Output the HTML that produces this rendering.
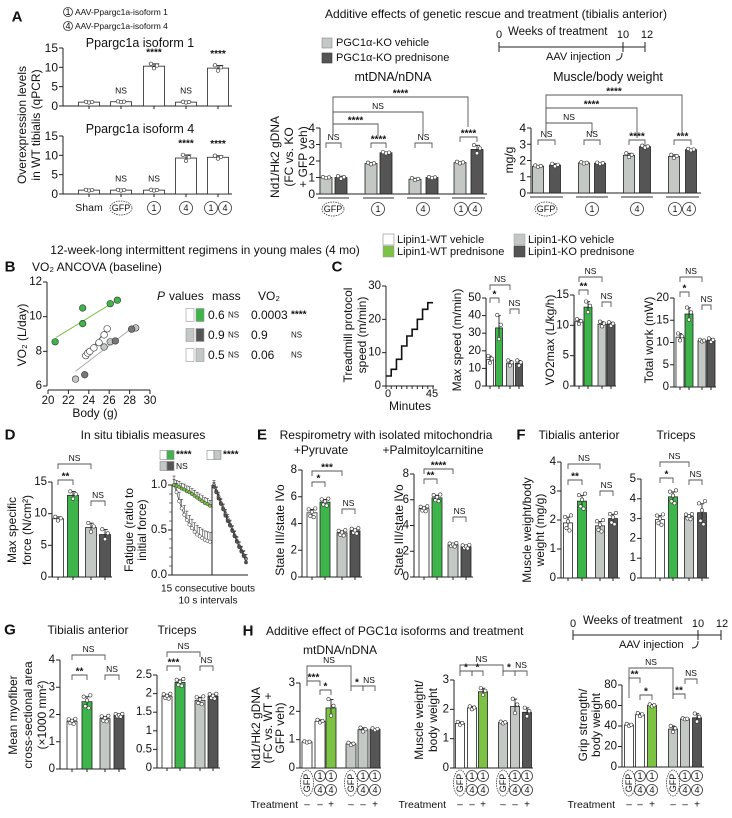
<!DOCTYPE html>
<html><head><meta charset="utf-8">
<style>
html,body{margin:0;padding:0;background:#fff;}
svg{display:block;font-family:"Liberation Sans",Arial,sans-serif;}
</style></head>
<body>
<svg id="fig" width="732" height="818" viewBox="0 0 732 818" xmlns="http://www.w3.org/2000/svg"></svg>
<script>
// ---------- DATA ----------
const a1Iso1=[1.0,1.1,10.3,1.0,9.8];
const a1Iso1Err=[0.1,0.1,0.6,0.1,0.7];
const a1Iso4=[1.0,1.0,1.0,9.3,9.5];
const a1Iso4Err=[0.1,0.1,0.1,0.8,0.4];
const a1Iso1Sig=['','NS','****','NS','****'];
const a1Iso4Sig=['','NS','NS','****','****'];
const aMtVeh=[1.0,1.85,0.9,1.9];
const aMtVehErr=[0.03,0.05,0.06,0.05];
const aMtPred=[1.0,2.5,1.0,2.7];
const aMtPredErr=[0.08,0.04,0.03,0.25];
const aMbwVeh=[1.65,1.85,2.32,2.25];
const aMbwVehErr=[0.05,0.04,0.12,0.1];
const aMbwPred=[1.72,1.83,2.85,2.67];
const aMbwPredErr=[0.08,0.04,0.06,0.04];
const bWtVehX=[23.7,23.9,24.1,24.5,25.0,25.5,25.8];
const bWtVehY=[7.75,7.9,8.0,8.2,8.5,8.95,9.3];
const bWtPredX=[20.7,23.4,23.4,26.1,26.8];
const bWtPredY=[8.55,10.5,9.6,10.75,10.95];
const bKoVehX=[22.7,25.5,26.1,28.6];
const bKoVehY=[6.4,8.25,8.55,9.35];
const bKoPredX=[23.6,26.6,28.2];
const bKoPredY=[6.65,8.6,9.28];
const cTimes=[0,5,10,15,20,25,30,35,40,45];
const cLevels=[3,5,8,12,15,17,20,23,25];
const cMaxSpeed=[15,33,13,13];
const cMaxSpeedErr=[2,7,1.5,1.5];
const cVo2=[10.6,13,10.2,10.2];
const cVo2Err=[0.4,0.9,0.4,0.3];
const cWork=[11.2,16.4,10.4,10.5];
const cWorkErr=[0.8,1.4,0.2,0.4];
const dForce=[9.2,12.9,7.8,6.7];
const dForceErr=[0.3,0.6,0.7,0.8];
const dFatWtVeh=[1.0,0.92,0.82,0.74,0.67,0.61,0.56,0.52,0.48,0.45,0.43,0.41,0.39,0.38,0.37];
const dFatWtPred=[1.0,0.99,0.98,0.96,0.95,0.93,0.92,0.9,0.88,0.86,0.84,0.82,0.8,0.79,0.77];
const dFatKoVeh=[1.0,0.93,0.87,0.8,0.74,0.68,0.62,0.56,0.5,0.44,0.38,0.32,0.27,0.22,0.18];
const dFatKoPred=[0.98,0.92,0.85,0.79,0.73,0.66,0.6,0.55,0.49,0.43,0.37,0.31,0.26,0.21,0.14];
const ePyr=[4.8,5.6,3.3,3.45];
const ePyrErr=[0.25,0.2,0.15,0.15];
const ePalm=[5.3,6.15,2.5,2.35];
const ePalmErr=[0.15,0.2,0.1,0.1];
const fTa=[1.9,2.65,1.8,2.05];
const fTaErr=[0.2,0.2,0.15,0.15];
const fTri=[2.95,4.1,3.1,3.3];
const fTriErr=[0.2,0.25,0.1,0.45];
const gTa=[1.75,2.47,1.85,1.97];
const gTaErr=[0.07,0.18,0.08,0.04];
const gTri=[1.93,2.3,1.82,1.93];
const gTriErr=[0.05,0.07,0.08,0.05];
const hMt=[0.92,1.65,2.12,0.85,1.35,1.37];
const hMtErr=[0.02,0.05,0.3,0.04,0.07,0.03];
const hMw=[1.52,2.05,2.6,1.55,2.1,1.9];
const hMwErr=[0.05,0.05,0.12,0.03,0.25,0.15];
const hGrip=[41,51,60,37,47,48];
const hGripErr=[1,1.5,1,3,0.5,4];

// ---------- HELPERS ----------
const NS='http://www.w3.org/2000/svg';
const svg=document.getElementById('fig');
const GREEN='#3db54a', LGREEN='#7cc243', LGRAY='#c3c8c4', DGRAY='#555555', AX='#222';
function el(tag,attrs,name,parent){
  const e=document.createElementNS(NS,tag);
  for(const k in attrs) e.setAttribute(k,attrs[k]);
  
  
  (parent||svg).appendChild(e);
  return e;
}
function tx(x,y,s,o,name,parent){
  o=o||{};
  const a={x:x,y:y,'font-size':o.fs||11,'text-anchor':o.a||'middle','dominant-baseline':'central',fill:o.c||'#111'};
  if(o.fw) a['font-weight']=o.fw;
  if(o.fi) a['font-style']=o.fi;
  if(o.rot) a.transform='rotate(-90 '+x+' '+y+')';
  const e=el('text',a,name,parent);
  e.textContent=s;
  return e;
}
function yAxis(g,x,y0,yT,vmin,vmax,ticks,labels,name,fs){
  const sy=v=>y0-(v-vmin)/(vmax-vmin)*(y0-yT);
  el('line',{x1:x,y1:y0,x2:x,y2:yT,stroke:AX,'stroke-width':1},name+'-line',g);
  ticks.forEach((t,i)=>{
    el('line',{x1:x-4,x2:x,y1:sy(t),y2:sy(t),stroke:AX,'stroke-width':1},name+'-tick',g);
    tx(x-5,sy(t),labels?labels[i]:String(t),{a:'end',fs:fs||11},name+'-tick-label',g);
  });
  return sy;
}
function xAxis(g,x1,x2,y,centers,name){
  el('line',{x1:x1,x2:x2,y1:y,y2:y,stroke:AX,'stroke-width':1},name,g);
  (centers||[]).forEach(c=>el('line',{x1:c,x2:c,y1:y,y2:y+3,stroke:AX,'stroke-width':1},name+'-tick',g));
}
const PAT=[0.8,-0.7,0.2,-1,1,-0.3];
function bars(g,xs,vals,errs,fills,w,sy,name,npts){
  vals.forEach((v,i)=>{
    el('rect',{x:xs[i]-w/2,y:sy(v),width:w,height:sy(0)-sy(v),fill:fills[i],stroke:'#222','stroke-width':0.8},name+'-bar',g);
    const e=errs[i];
    el('line',{x1:xs[i],x2:xs[i],y1:sy(v-e),y2:sy(v+e),stroke:'#222','stroke-width':0.9},name+'-error',g);
    el('line',{x1:xs[i]-w*0.25,x2:xs[i]+w*0.25,y1:sy(v+e),y2:sy(v+e),stroke:'#222','stroke-width':0.9},name+'-error-cap',g);
    for(let k=0;k<npts;k++){
      const dx=(k-(npts-1)/2)*Math.min(3,w/(npts+1));
      el('circle',{cx:xs[i]+dx,cy:sy(v+PAT[k%6]*e*1.3),r:1.7,fill:'#fff',stroke:'#333','stroke-width':0.6},name+'-point',g);
    }
  });
}
function bracket(g,x1,x2,y,label,name,drop){
  drop=drop||5;
  el('path',{d:'M'+x1+' '+(y+drop)+'V'+y+'H'+x2+'V'+(y+drop),fill:'none',stroke:'#555','stroke-width':0.9},name,g);
  const star=label.indexOf('*')>=0;
  tx((x1+x2)/2,star?y-3:y-6,label,{fs:star?10:8.5,fw:star?'bold':'normal'},name+'-label',g);
}
function circ(g,x,y,t,name,r){
  el('circle',{cx:x,cy:y,r:r||6.5,fill:'none',stroke:'#333','stroke-width':0.8},name,g);
  tx(x,y,t,{fs:9},name+'-text',g);
}
function gfp(g,x,y,name,vertical){
  if(vertical){
    el('ellipse',{cx:x,cy:y,rx:6.5,ry:13,fill:'none',stroke:'#333','stroke-width':0.8,'stroke-dasharray':'1.5,1'},name,g);
    tx(x,y,'GFP',{fs:9,rot:true},name+'-text',g);
  } else {
    el('ellipse',{cx:x,cy:y,rx:11,ry:7,fill:'none',stroke:'#333','stroke-width':0.8,'stroke-dasharray':'1.5,1'},name,g);
    tx(x,y,'GFP',{fs:9},name+'-text',g);
  }
}
function mkg(name){ return el('g',{},name,svg); }

// ---------- PANEL A ----------
let g=mkg('panel-a');
tx(17,17,'A',{fs:15,fw:'bold'},'panel-a-letter',g);
circ(g,68,12,'1','legend-isoform1-icon',4.5);
tx(75,12,'AAV-Ppargc1a-isoform 1',{fs:8.5,a:'start'},'legend-isoform1-text',g);
circ(g,68,26,'4','legend-isoform4-icon',4.5);
tx(75,26,'AAV-Ppargc1a-isoform 4',{fs:8.5,a:'start'},'legend-isoform4-text',g);
const aXs=[89,121,154,186,218];
tx(140,43,'Ppargc1a isoform 1',{fs:12.5},'a-iso1-title',g);
let sy=yAxis(g,63,106,48,0,15,[0,5,10,15],null,'a-iso1-y',12);
xAxis(g,63,232,106,aXs,'a-iso1-x');
bars(g,aXs,a1Iso1,a1Iso1Err,['#fff','#fff','#fff','#fff','#fff'],21,sy,'a-iso1',3);
a1Iso1.forEach((v,i)=>{ if(a1Iso1Sig[i]) tx(aXs[i],sy(v+a1Iso1Err[i])-11,a1Iso1Sig[i],{fs:a1Iso1Sig[i]=='NS'?8.5:10,fw:a1Iso1Sig[i]=='NS'?'normal':'bold'},'a-iso1-sig',g); });
tx(140,129,'Ppargc1a isoform 4',{fs:12.5},'a-iso4-title',g);
sy=yAxis(g,63,194,136,0,15,[0,5,10,15],null,'a-iso4-y',12);
xAxis(g,63,232,194,aXs,'a-iso4-x');
bars(g,aXs,a1Iso4,a1Iso4Err,['#fff','#fff','#fff','#fff','#fff'],21,sy,'a-iso4',3);
a1Iso4.forEach((v,i)=>{ if(a1Iso4Sig[i]) tx(aXs[i],sy(v+a1Iso4Err[i])-11,a1Iso4Sig[i],{fs:a1Iso4Sig[i]=='NS'?8.5:10,fw:a1Iso4Sig[i]=='NS'?'normal':'bold'},'a-iso4-sig',g); });
tx(89,208,'Sham',{fs:10.5},'a-x-sham',g);
gfp(g,121,208,'a-x-gfp');
circ(g,154,208,'1','a-x-iso1');
circ(g,186,208,'4','a-x-iso4');
circ(g,211,208,'1','a-x-iso14a');
circ(g,225,208,'4','a-x-iso14b');
tx(22,125,'Overexpression levels',{fs:12,rot:true},'a-y-title-1',g);
tx(36,125,'in WT tibialis (qPCR)',{fs:12,rot:true},'a-y-title-2',g);

tx(496,14,'Additive effects of genetic rescue and treatment (tibialis anterior)',{fs:12},'a-right-title',g);
el('rect',{x:322,y:38,width:10,height:10,fill:LGRAY,stroke:'#888','stroke-width':0.6},'legend-ko-vehicle-swatch',g);
tx(336,43,'PGC1α-KO vehicle',{fs:11,a:'start'},'legend-ko-vehicle-text',g);
el('rect',{x:322,y:53,width:10,height:10,fill:DGRAY,stroke:'#333','stroke-width':0.6},'legend-ko-pred-swatch',g);
tx(336,58,'PGC1α-KO prednisone',{fs:11,a:'start'},'legend-ko-pred-text',g);
el('line',{x1:499,x2:645,y1:47,y2:47,stroke:AX},'a-timeline',g);
[499,623,645].forEach(x=>el('line',{x1:x,x2:x,y1:42,y2:52,stroke:AX},'a-timeline-tick',g));
tx(499,35,'0',{fs:11},'a-timeline-0',g);
tx(508,32,'Weeks of treatment',{fs:11.5,a:'start'},'a-timeline-title',g);
tx(623,35,'10',{fs:11},'a-timeline-10',g);
tx(647,35,'12',{fs:11},'a-timeline-12',g);
tx(546,57,'AAV injection',{fs:11,a:'start'},'a-timeline-aav',g);
el('path',{d:'M616 60 Q622 60 622 53',fill:'none',stroke:AX},'a-timeline-arrow',g);

const mtL=[326,371,415,460], mtD=[341,386,432,477];
tx(393,77,'mtDNA/nDNA',{fs:12.5},'a-mt-title',g);
sy=yAxis(g,320,194,128,0,4,[0,1,2,3,4],null,'a-mt-y',12);
xAxis(g,320,487,194,null,'a-mt-x');
bars(g,mtL,aMtVeh,aMtVehErr,[LGRAY,LGRAY,LGRAY,LGRAY],12,sy,'a-mt-veh',3);
bars(g,mtD,aMtPred,aMtPredErr,[DGRAY,DGRAY,DGRAY,DGRAY],12,sy,'a-mt-pred',3);
const mtSig=['NS','****','NS','****'];
mtL.forEach((x,i)=>{
  el('line',{x1:x-8,x2:mtD[i]+8,y1:198,y2:198,stroke:'#777','stroke-width':1.5},'a-mt-group-underline',g);
  bracket(g,x,mtD[i],i==3?137:143,mtSig[i],'a-mt-pair-bracket');
});
bracket(g,333,378,124,'****','a-mt-bracket-gfp-1',12);
bracket(g,333,423,112,'NS','a-mt-bracket-gfp-4',24);
bracket(g,333,468,97,'****','a-mt-bracket-gfp-14',30);
gfp(g,333,209,'a-mt-x-gfp'); circ(g,378,209,'1','a-mt-x-1'); circ(g,423,209,'4','a-mt-x-4');
circ(g,461,209,'1','a-mt-x-14a'); circ(g,475,209,'4','a-mt-x-14b');
tx(275,157,'Nd1/Hk2 gDNA',{fs:12,rot:true},'a-mt-y-title-1',g);
tx(289,157,'(FC vs. KO',{fs:12,rot:true},'a-mt-y-title-2',g);
tx(303,157,'+ GFP veh)',{fs:12,rot:true},'a-mt-y-title-3',g);

const mbL=[538,584,629,674], mbD=[555,600,645,691];
tx(608,77,'Muscle/body weight',{fs:12.5},'a-mbw-title',g);
sy=yAxis(g,531,193,128,0,4,[0,1,2,3,4],null,'a-mbw-y',12);
xAxis(g,531,701,193,null,'a-mbw-x');
bars(g,mbL,aMbwVeh,aMbwVehErr,[LGRAY,LGRAY,LGRAY,LGRAY],11,sy,'a-mbw-veh',3);
bars(g,mbD,aMbwPred,aMbwPredErr,[DGRAY,DGRAY,DGRAY,DGRAY],11,sy,'a-mbw-pred',3);
const mbSig=['NS','NS','****','***'];
mbL.forEach((x,i)=>{
  el('line',{x1:x-8,x2:mbD[i]+8,y1:197,y2:197,stroke:'#777','stroke-width':1.5},'a-mbw-group-underline',g);
  bracket(g,x,mbD[i],140,mbSig[i],'a-mbw-pair-bracket');
});
bracket(g,546,592,123,'NS','a-mbw-bracket-gfp-1',10);
bracket(g,546,637,108,'****','a-mbw-bracket-gfp-4',30);
bracket(g,546,682,95,'****','a-mbw-bracket-gfp-14',40);
gfp(g,546,209,'a-mbw-x-gfp'); circ(g,592,209,'1','a-mbw-x-1'); circ(g,637,209,'4','a-mbw-x-4');
circ(g,675,209,'1','a-mbw-x-14a'); circ(g,689,209,'4','a-mbw-x-14b');
tx(509,160,'mg/g',{fs:12,rot:true},'a-mbw-y-title',g);

g=mkg('section-header');
tx(205,250,'12-week-long intermittent regimens in young males (4 mo)',{fs:12},'section-title',g);
el('rect',{x:383,y:234,width:11,height:11,fill:'#fff',stroke:'#999','stroke-width':0.7},'legend-wt-veh-swatch',g);
tx(397,240,'Lipin1-WT vehicle',{fs:11,a:'start'},'legend-wt-veh-text',g);
el('rect',{x:383,y:246,width:11,height:11,fill:LGREEN,stroke:'#999','stroke-width':0.5},'legend-wt-pred-swatch',g);
tx(397,252,'Lipin1-WT prednisone',{fs:11,a:'start'},'legend-wt-pred-text',g);
el('rect',{x:514,y:234,width:11,height:11,fill:LGRAY,stroke:'#999','stroke-width':0.5},'legend-ko-veh-swatch',g);
tx(528,240,'Lipin1-KO vehicle',{fs:11,a:'start'},'legend-ko-veh-text',g);
el('rect',{x:514,y:246,width:11,height:11,fill:DGRAY,stroke:'#333','stroke-width':0.5},'legend-ko-pred-swatch',g);
tx(528,252,'Lipin1-KO prednisone',{fs:11,a:'start'},'legend-ko-pred-text',g);

// ---------- PANEL B ----------
g=mkg('panel-b');
tx(10,267,'B',{fs:15,fw:'bold'},'panel-b-letter',g);
tx(32,267,'VO₂ ANCOVA (baseline)',{fs:12,a:'start'},'panel-b-title',g);
sy=yAxis(g,47,386,282,6,12,[6,8,10,12],null,'b-y',11.5);
const sxB=v=>48+(v-20)*10.2;
el('line',{x1:48,x2:150,y1:390,y2:390,stroke:AX},'b-x-axis',g);
[20,22,24,26,28,30].forEach(t=>{el('line',{x1:sxB(t),x2:sxB(t),y1:390,y2:394,stroke:AX},'b-x-tick',g);tx(sxB(t),401,String(t),{fs:11.5},'b-x-tick-label',g);});
tx(95,413,'Body (g)',{fs:12},'b-x-title',g);
tx(22,335,'VO₂ (L/day)',{fs:12,rot:true},'b-y-title',g);
el('line',{x1:sxB(20.8),y1:sy(8.8),x2:sxB(26.9),y2:sy(11.0),stroke:LGREEN,'stroke-width':1},'b-fit-wt-pred',g);
el('line',{x1:sxB(23.7),y1:sy(7.7),x2:sxB(25.8),y2:sy(9.3),stroke:'#333','stroke-width':0.8},'b-fit-wt-veh',g);
el('line',{x1:sxB(22.7),y1:sy(6.85),x2:sxB(28.7),y2:sy(9.55),stroke:'#aaa','stroke-width':1},'b-fit-ko',g);
function scat(X,Y,fill,name){X.forEach((x,i)=>el('circle',{cx:sxB(x),cy:sy(Y[i]),r:3.3,fill:fill,stroke:'#333','stroke-width':0.6},name,g));}
scat(bKoVehX,bKoVehY,LGRAY,'b-point-ko-veh');
scat(bKoPredX,bKoPredY,'#777','b-point-ko-pred');
scat(bWtVehX,bWtVehY,'#fff','b-point-wt-veh');
scat(bWtPredX,bWtPredY,GREEN,'b-point-wt-pred');
tx(157,296,'P',{fs:12,a:'start',fi:'italic'},'b-table-p',g);
tx(169,296,'values',{fs:12,a:'start'},'b-table-values',g);
tx(212,296,'mass',{fs:12,a:'start'},'b-table-mass',g);
tx(258,296,'VO₂',{fs:12,a:'start'},'b-table-vo2',g);
const rows=[[315,'#fff',GREEN,'0.6','0.0003','****'],[335,LGRAY,DGRAY,'0.9','0.9','NS'],[355,'#fff',LGRAY,'0.5','0.06','NS']];
rows.forEach(r=>{
  el('rect',{x:186,y:r[0]-6.5,width:8,height:13,fill:r[1],stroke:'#999','stroke-width':0.6},'b-table-swatch',g);
  el('rect',{x:196,y:r[0]-6.5,width:8,height:13,fill:r[2],stroke:'#999','stroke-width':0.6},'b-table-swatch',g);
  tx(208,r[0],r[3],{fs:12,a:'start'},'b-table-mass-p',g);
  tx(228,r[0],'NS',{fs:8,a:'start'},'b-table-mass-sig',g);
  tx(251,r[0],r[4],{fs:12,a:'start'},'b-table-vo2-p',g);
  tx(291,r[0],r[5],{fs:r[5]=='NS'?8:10,a:'start',fw:r[5]=='NS'?'normal':'bold'},'b-table-vo2-sig',g);
});

// ---------- PANEL C ----------
g=mkg('panel-c');
tx(337,267,'C',{fs:15,fw:'bold'},'panel-c-letter',g);
sy=yAxis(g,386,386,286,0,30,[0,10,20,30],null,'c-tread-y',11.5);
const sxT=v=>386+v/45*47;
el('line',{x1:386,x2:434,y1:386,y2:386,stroke:AX},'c-tread-x',g);
cTimes.forEach(t=>el('line',{x1:sxT(t),x2:sxT(t),y1:386,y2:389,stroke:AX},'c-tread-x-tick',g));
tx(388,394,'0',{fs:11},'c-tread-x-0',g); tx(432,394,'45',{fs:11},'c-tread-x-45',g);
tx(410,406,'Minutes',{fs:12},'c-tread-x-title',g);
let d='M'+sxT(0)+' '+sy(cLevels[0]);
cLevels.forEach((l,i)=>{ d+=' V'+sy(l)+' H'+sxT(cTimes[i+1]); });
el('path',{d:d,fill:'none',stroke:'#111','stroke-width':1.6},'c-tread-step-line',g);
tx(348,335,'Treadmill protocol',{fs:12,rot:true},'c-tread-y-title-1',g);
tx(362,335,'speed (m/min)',{fs:12,rot:true},'c-tread-y-title-2',g);
const F4=['#fff',GREEN,LGRAY,DGRAY];
let xs=[490,499,510,519];
sy=yAxis(g,486,386,298,0,50,[0,10,20,30,40,50],null,'c-speed-y',11.5);
xAxis(g,486,524,386,xs,'c-speed-x');
bars(g,xs,cMaxSpeed,cMaxSpeedErr,F4,7,sy,'c-speed',3);
bracket(g,490,510,285,'NS','c-speed-bracket-ns');
bracket(g,490,499,298,'*','c-speed-bracket-star');
bracket(g,510,519,309,'NS','c-speed-bracket-ko');
tx(457,340,'Max speed (m/min)',{fs:12,rot:true},'c-speed-y-title',g);
xs=[579,588,602,611];
sy=yAxis(g,574,386,295,0,15,[0,5,10,15],null,'c-vo2-y',11.5);
xAxis(g,574,616,386,xs,'c-vo2-x');
bars(g,xs,cVo2,cVo2Err,F4,8,sy,'c-vo2',3);
bracket(g,579,602,277,'NS','c-vo2-bracket-ns');
bracket(g,579,588,290,'**','c-vo2-bracket-star');
bracket(g,602,611,302,'NS','c-vo2-bracket-ko');
tx(550,340,'VO2max (L/kg/h)',{fs:12,rot:true},'c-vo2-y-title',g);
xs=[680,689,702,711];
sy=yAxis(g,674,387,298,0,20,[0,5,10,15,20],null,'c-work-y',11.5);
xAxis(g,674,716,387,xs,'c-work-x');
bars(g,xs,cWork,cWorkErr,F4,8,sy,'c-work',3);
bracket(g,680,702,277,'NS','c-work-bracket-ns');
bracket(g,680,689,292,'*','c-work-bracket-star');
bracket(g,702,711,305,'NS','c-work-bracket-ko');
tx(649,340,'Total work (mW)',{fs:12,rot:true},'c-work-y-title',g);

// ---------- PANEL D ----------
g=mkg('panel-d');
tx(10,435,'D',{fs:15,fw:'bold'},'panel-d-letter',g);
tx(143,435,'In situ tibialis measures',{fs:12},'panel-d-title',g);
xs=[58,73,91,105];
sy=yAxis(g,52,577,482,0,15,[0,5,10,15],null,'d-force-y',11.5);
xAxis(g,52,112,577,xs,'d-force-x');
bars(g,xs,dForce,dForceErr,F4,11,sy,'d-force',3);
bracket(g,58,91,464,'NS','d-force-bracket-ns');
bracket(g,58,73,480,'**','d-force-bracket-star');
bracket(g,91,105,501,'NS','d-force-bracket-ko');
tx(12,530,'Max specific',{fs:12,rot:true},'d-force-y-title-1',g);
tx(27,530,'force (N/cm²)',{fs:12,rot:true},'d-force-y-title-2',g);
sy=yAxis(g,172,575,485,0,1,[0,0.5,1],['0.0','0.5','1.0'],'d-fat-y',11.5);
for(let t=0;t<=1.001;t+=0.1) el('line',{x1:169,x2:172,y1:sy(t),y2:sy(t),stroke:AX,'stroke-width':0.6},'d-fat-minor-tick',g);
el('line',{x1:172,x2:248,y1:575,y2:575,stroke:AX},'d-fat-x',g);
el('line',{x1:212,x2:212,y1:485,y2:575,stroke:AX},'d-fat-divider',g);
function fat(vals,x0,x1,fill,name,errUp){
  const step=(x1-x0)/(vals.length-1);
  let p='';
  vals.forEach((v,i)=>{p+=(i?'L':'M')+(x0+i*step)+' '+sy(v);});
  el('path',{d:p,fill:'none',stroke:'#333','stroke-width':0.7},name+'-line',g);
  vals.forEach((v,i)=>{
    const x=x0+i*step;
    el('line',{x1:x,x2:x,y1:sy(v),y2:sy(v+errUp),stroke:'#333','stroke-width':0.6},name+'-error',g);
    el('line',{x1:x-1.5,x2:x+1.5,y1:sy(v+errUp),y2:sy(v+errUp),stroke:'#333','stroke-width':0.6},name+'-error-cap',g);
    el('circle',{cx:x,cy:sy(v),r:1.7,fill:fill,stroke:'#333','stroke-width':0.5},name+'-point',g);
  });
}
fat(dFatWtVeh,174,210,'#fff','d-fat-wt-veh',0.1);
fat(dFatWtPred,174,210,LGREEN,'d-fat-wt-pred',0.06);
fat(dFatKoVeh,214,246,LGRAY,'d-fat-ko-veh',0.05);
fat(dFatKoPred,214,246,DGRAY,'d-fat-ko-pred',0.05);
[[160,455,'#fff'],[167,455,GREEN],[207,455,'#fff'],[214,455,LGRAY],[160,466,LGRAY],[167,466,DGRAY]].forEach(s=>el('rect',{x:s[0],y:s[1]-4.5,width:7,height:9,fill:s[2],stroke:'#888','stroke-width':0.6},'d-fat-legend-swatch',g));
tx(176,455,'****',{fs:10,a:'start',fw:'bold'},'d-fat-legend-sig',g);
tx(223,455,'****',{fs:10,a:'start',fw:'bold'},'d-fat-legend-sig',g);
tx(176,466,'NS',{fs:8.5,a:'start'},'d-fat-legend-sig',g);
tx(129,530,'Fatigue (ratio to',{fs:12,rot:true},'d-fat-y-title-1',g);
tx(142,530,'initial force)',{fs:12,rot:true},'d-fat-y-title-2',g);
tx(208,589,'15 consecutive bouts',{fs:10},'d-fat-x-title-1',g);
tx(208,601,'10 s intervals',{fs:10},'d-fat-x-title-2',g);

// ---------- PANEL E ----------
g=mkg('panel-e');
tx(262,435,'E',{fs:15,fw:'bold'},'panel-e-letter',g);
tx(386,435,'Respirometry with isolated mitochondria',{fs:12},'panel-e-title',g);
tx(321,450,'+Pyruvate',{fs:12},'e-pyr-title',g);
tx(433,450,'+Palmitoylcarnitine',{fs:12},'e-palm-title',g);
xs=[312,325,342,355];
sy=yAxis(g,302,577,470,0,8,[0,2,4,6,8],null,'e-pyr-y',11.5);
xAxis(g,302,362,577,xs,'e-pyr-x');
bars(g,xs,ePyr,ePyrErr,F4,10,sy,'e-pyr',5);
bracket(g,312,342,471,'***','e-pyr-bracket-1');
bracket(g,312,325,482,'*','e-pyr-bracket-2');
bracket(g,342,355,509,'NS','e-pyr-bracket-ko');
tx(280,530,'State III/state IVo',{fs:12,rot:true},'e-pyr-y-title',g);
xs=[424,437,453,466];
sy=yAxis(g,414,577,474,0,8,[0,2,4,6,8],null,'e-palm-y',11.5);
xAxis(g,414,473,577,xs,'e-palm-x');
bars(g,xs,ePalm,ePalmErr,F4,10,sy,'e-palm',5);
bracket(g,424,453,469,'****','e-palm-bracket-1');
bracket(g,424,437,479,'**','e-palm-bracket-2');
bracket(g,453,466,517,'NS','e-palm-bracket-ko');
tx(399,530,'State III/state IVo',{fs:12,rot:true},'e-palm-y-title',g);

// ---------- PANEL F ----------
g=mkg('panel-f');
tx(521,435,'F',{fs:15,fw:'bold'},'panel-f-letter',g);
tx(579,435,'Tibialis anterior',{fs:12},'f-ta-title',g);
tx(676,435,'Triceps',{fs:12},'f-tri-title',g);
xs=[568,582,600,613];
sy=yAxis(g,561,578,462,0,4,[0,1,2,3,4],null,'f-ta-y',11.5);
xAxis(g,561,620,578,xs,'f-ta-x');
bars(g,xs,fTa,fTaErr,F4,9,sy,'f-ta',5);
bracket(g,568,600,464,'NS','f-ta-bracket-ns');
bracket(g,568,582,480,'**','f-ta-bracket-star');
bracket(g,600,613,491,'NS','f-ta-bracket-ko');
tx(527,530,'Muscle weight/body',{fs:12,rot:true},'f-y-title-1',g);
tx(540,530,'weight (mg/g)',{fs:12,rot:true},'f-y-title-2',g);
xs=[660,673,689,702];
sy=yAxis(g,641,578,479,0,5,[0,1,2,3,4,5],null,'f-tri-y',11.5);
xAxis(g,641,709,578,xs,'f-tri-x');
bars(g,xs,fTri,fTriErr,F4,9,sy,'f-tri',5);
bracket(g,660,689,462,'NS','f-tri-bracket-ns');
bracket(g,660,673,478,'*','f-tri-bracket-star');
bracket(g,689,702,480,'NS','f-tri-bracket-ko');

// ---------- PANEL G ----------
g=mkg('panel-g');
tx(10,630,'G',{fs:15,fw:'bold'},'panel-g-letter',g);
tx(88,630,'Tibialis anterior',{fs:12},'g-ta-title',g);
tx(177,630,'Triceps',{fs:12},'g-tri-title',g);
xs=[72,87,105,119];
sy=yAxis(g,60,769,660,0,4,[0,1,2,3,4],null,'g-ta-y',11.5);
xAxis(g,60,126,769,xs,'g-ta-x');
bars(g,xs,gTa,gTaErr,F4,10,sy,'g-ta',5);
bracket(g,72,105,655,'NS','g-ta-bracket-ns');
bracket(g,72,87,675,'**','g-ta-bracket-star');
bracket(g,105,119,675,'NS','g-ta-bracket-ko');
tx(13,715,'Mean myofiber',{fs:12,rot:true},'g-y-title-1',g);
tx(28,715,'cross-sectional area',{fs:12,rot:true},'g-y-title-2',g);
tx(42,715,'(×1000 mm²)',{fs:12,rot:true},'g-y-title-3',g);
xs=[167,180,200,213];
sy=yAxis(g,157,768,675,0,2.5,[0,0.5,1,1.5,2,2.5],['0','0.5','1','1.5','2','2.5'],'g-tri-y',11.5);
xAxis(g,157,220,768,xs,'g-tri-x');
bars(g,xs,gTri,gTriErr,F4,10,sy,'g-tri',5);
bracket(g,167,200,652,'NS','g-tri-bracket-ns');
bracket(g,167,180,666,'***','g-tri-bracket-star');
bracket(g,200,213,666,'NS','g-tri-bracket-ko');

// ---------- PANEL H ----------
g=mkg('panel-h');
tx(248,631,'H',{fs:15,fw:'bold'},'panel-h-letter',g);
tx(266,631,'Additive effect of PGC1α isoforms and treatment',{fs:12,a:'start'},'panel-h-title',g);
tx(340,650,'mtDNA/nDNA',{fs:12},'h-mt-title',g);
const HF=['#fff','#fff',LGREEN,LGRAY,LGRAY,DGRAY];
const TR=['–','–','+','–','–','+'];
function hLabels(xs,trX,name){
  [0,3].forEach(i=>{
    gfp(g,xs[i],783,name+'-gfp',true);
    [1,2].forEach(j=>{circ(g,xs[i+j],776,'1',name+'-iso1',5.5);circ(g,xs[i+j],790,'4',name+'-iso4',5.5);});
  });
  tx(trX,805,'Treatment',{fs:10.5,a:'end'},name+'-treatment-label',g);
  xs.forEach((x,i)=>tx(x,805,TR[i],{fs:10},name+'-treatment-sign',g));
}
xs=[307,320,331,351,363,375];
sy=yAxis(g,300,768,683,0,3,[0,1,2,3],null,'h-mt-y',11.5);
xAxis(g,300,381,768,null,'h-mt-x');
bars(g,xs,hMt,hMtErr,HF,10,sy,'h-mt',3);
bracket(g,307,351,666,'NS','h-mt-bracket-ns',20);
bracket(g,307,320,681,'***','h-mt-bracket-1');
bracket(g,320,331,690,'*','h-mt-bracket-2');
bracket(g,351,363,686,'*','h-mt-bracket-3');
bracket(g,363,375,686,'NS','h-mt-bracket-4');
hLabels(xs,298,'h-mt');
tx(256,728,'Nd1/Hk2 gDNA',{fs:12,rot:true},'h-mt-y-title-1',g);
tx(268,728,'(FC vs. WT +',{fs:12,rot:true},'h-mt-y-title-2',g);
tx(280,728,'GFP veh)',{fs:12,rot:true},'h-mt-y-title-3',g);
xs=[460,472,483,503,515,527];
sy=yAxis(g,454,768,680,0,3,[0,1,2,3],null,'h-mw-y',11.5);
xAxis(g,454,533,768,null,'h-mw-x');
bars(g,xs,hMw,hMwErr,HF,9,sy,'h-mw',3);
bracket(g,460,503,665,'NS','h-mw-bracket-ns',8);
bracket(g,460,472,671,'*','h-mw-bracket-1');
bracket(g,472,483,671,'*','h-mw-bracket-2');
bracket(g,503,515,671,'*','h-mw-bracket-3');
bracket(g,515,527,671,'NS','h-mw-bracket-4');
hLabels(xs,446,'h-mw');
tx(419,720,'Muscle weight/',{fs:12,rot:true},'h-mw-y-title-1',g);
tx(433,720,'body weight',{fs:12,rot:true},'h-mw-y-title-2',g);
xs=[629,640,652,673,685,697];
sy=yAxis(g,622,767,685,0,80,[0,20,40,60,80],null,'h-grip-y',11.5);
xAxis(g,622,704,767,null,'h-grip-x');
bars(g,xs,hGrip,hGripErr,HF,9,sy,'h-grip',3);
bracket(g,629,673,668,'NS','h-grip-bracket-ns',30);
bracket(g,629,640,678,'**','h-grip-bracket-1');
bracket(g,640,652,695,'*','h-grip-bracket-2');
bracket(g,673,685,694,'**','h-grip-bracket-3');
bracket(g,685,697,679,'NS','h-grip-bracket-4');
hLabels(xs,615,'h-grip');
tx(583,725,'Grip strength/',{fs:12,rot:true},'h-grip-y-title-1',g);
tx(596,725,'body weight',{fs:12,rot:true},'h-grip-y-title-2',g);
el('line',{x1:573,x2:721,y1:635,y2:635,stroke:AX},'h-timeline',g);
[573,698,721].forEach(x=>el('line',{x1:x,x2:x,y1:630,y2:640,stroke:AX},'h-timeline-tick',g));
tx(573,624,'0',{fs:11},'h-timeline-0',g);
tx(583,621,'Weeks of treatment',{fs:11.5,a:'start'},'h-timeline-title',g);
tx(698,624,'10',{fs:11},'h-timeline-10',g);
tx(722,624,'12',{fs:11},'h-timeline-12',g);
tx(619,645,'AAV injection',{fs:11,a:'start'},'h-timeline-aav',g);
el('path',{d:'M692 648 Q698 648 698 641',fill:'none',stroke:AX},'h-timeline-arrow',g);
</script>
</body></html>
